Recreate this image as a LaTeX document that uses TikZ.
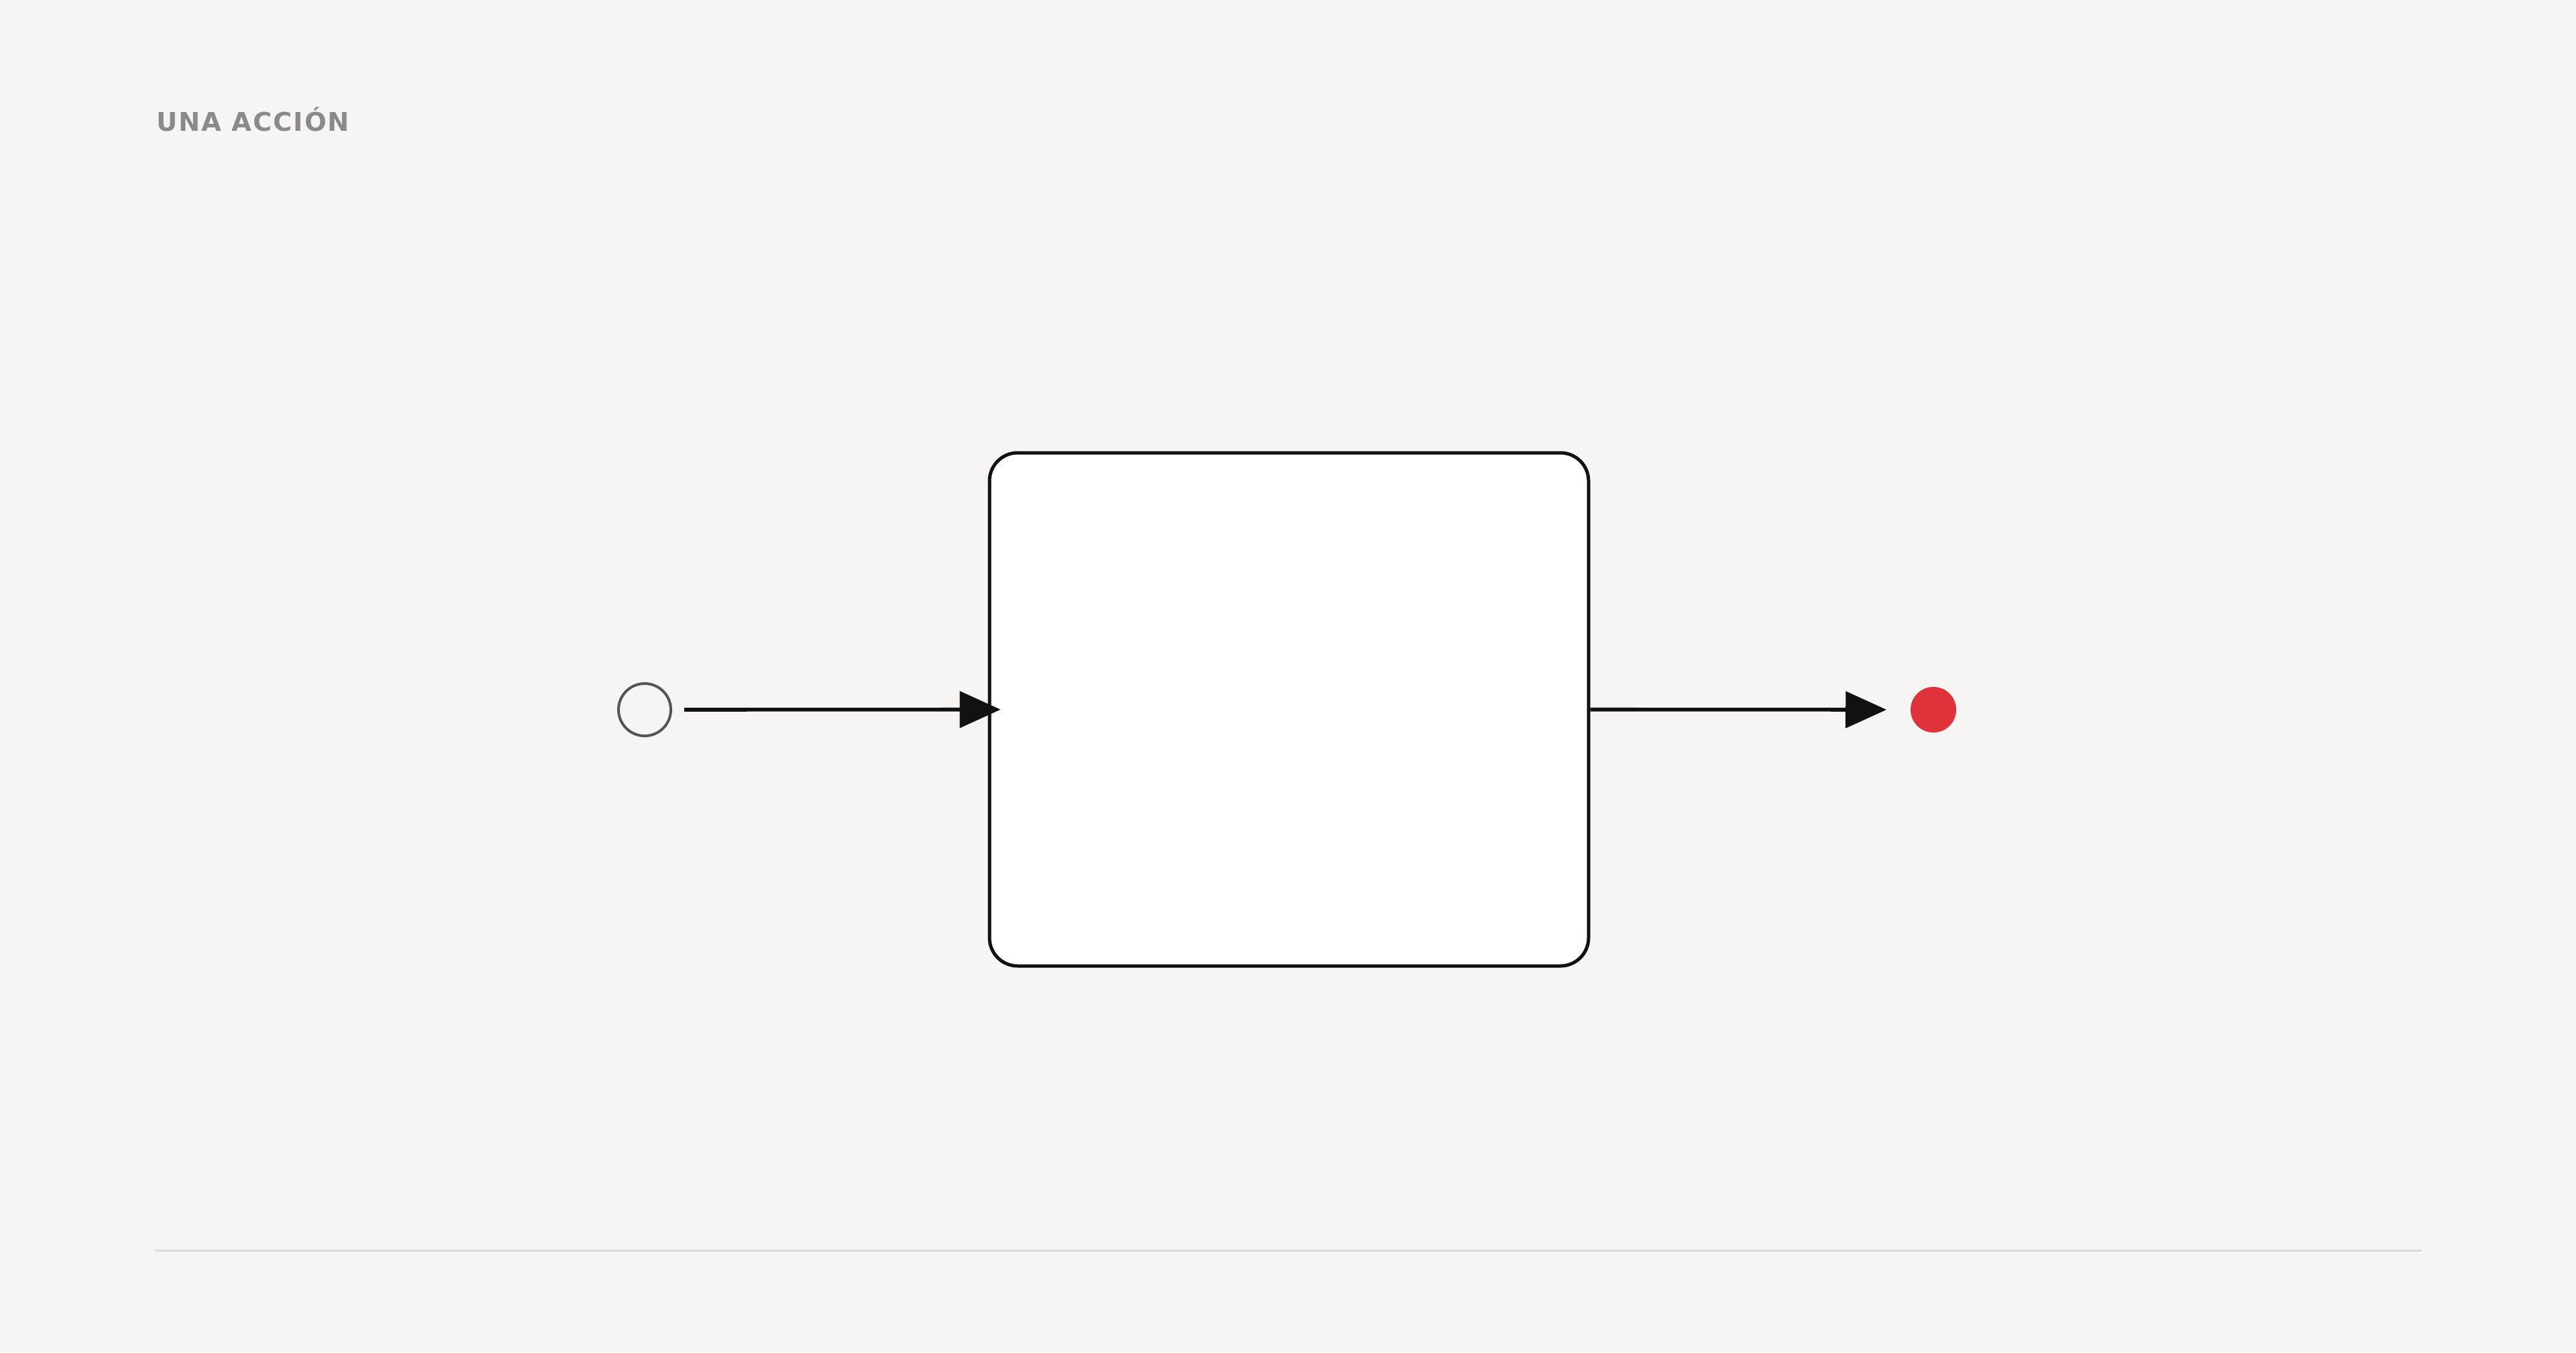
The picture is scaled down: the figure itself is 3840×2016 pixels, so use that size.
\documentclass[tikz,border=0pt]{standalone}
\usepackage{fontspec}
\newfontfamily\titlefont[LetterSpace=5]{DejaVu Sans}
\usetikzlibrary{arrows.meta}
\definecolor{bgcol}{HTML}{F6F5F3}
\definecolor{titlecol}{HTML}{8A8A88}
\definecolor{rulecol}{HTML}{DEDCD8}
\definecolor{startcol}{HTML}{555555}
\definecolor{endcol}{HTML}{E0323A}
\definecolor{inkcol}{HTML}{111111}
\tikzset{
  startstate/.style={circle, draw=startcol, line width=1pt, fill=bgcol, minimum size=19.5pt, inner sep=0pt},
  endstate/.style={circle, fill=endcol, draw=none, minimum size=17pt, inner sep=0pt},
  actionbox/.style={rectangle, rounded corners=10.5pt, draw=inkcol, line width=1.25pt, fill=white, minimum width=223.25pt, minimum height=191.25pt, inner sep=0pt},
  flow/.style={draw=inkcol, line width=1.4pt, -{Triangle[length=15.25pt, width=13.5pt]}},
  titletext/.style={anchor=base west, inner sep=0pt, text=titlecol, font=\titlefont\bfseries\fontsize{9.6pt}{11pt}\selectfont},
  baserule/.style={draw=rulecol, line width=0.75pt}
}
\begin{document}
\begin{tikzpicture}[x=0.25pt, y=-0.25pt]
  \fill[bgcol] (0,0) rectangle (3840,2016);
  \useasboundingbox (0,0) rectangle (3840,2016);
  \node[titletext] (title) at (233,195) {UNA ACCIÓN};
  \node[startstate] (start) at (961,1058) {};
  \node[actionbox] (act) at (1921.5,1057.5) {};
  \node[endstate] (stop) at (2882,1058) {};
  \draw[flow, shorten <=4.5pt, shorten >=-4.75pt] (start) -- (act);
  \draw[flow, shorten >=8.75pt] (act) -- (stop);
  \coordinate (ruleL) at (231,1864);
  \coordinate (ruleR) at (3610,1864);
  \draw[baserule] (ruleL) -- (ruleR);
\end{tikzpicture}
\end{document}
